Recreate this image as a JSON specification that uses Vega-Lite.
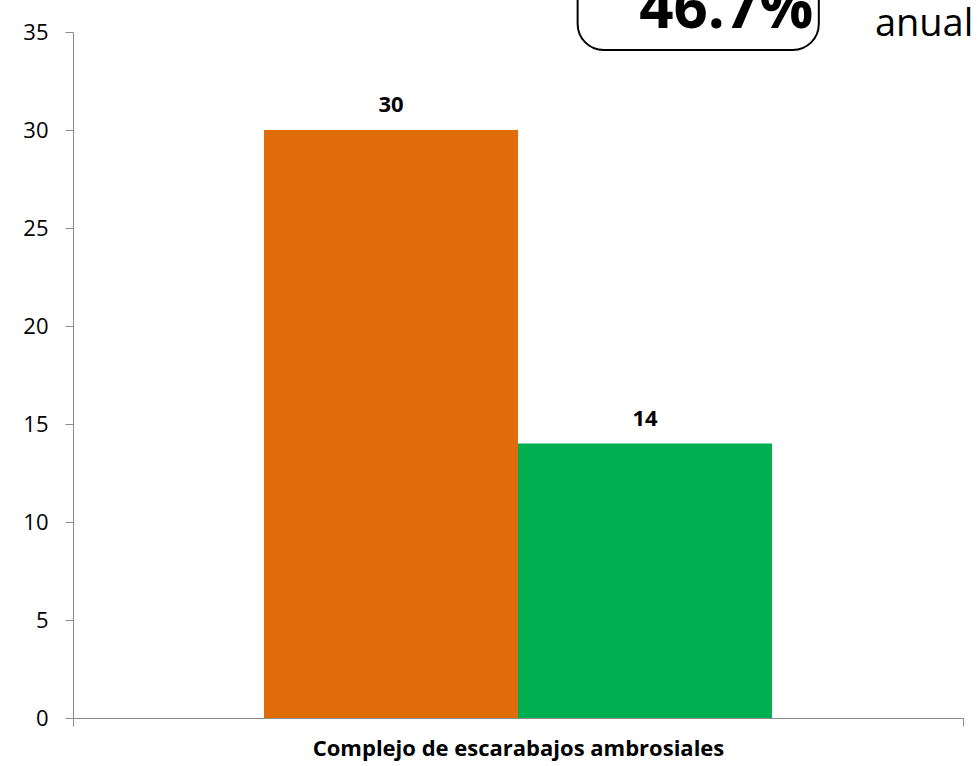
{
  "$schema": "https://vega.github.io/schema/vega-lite/v6.json",
  "autosize": {"type": "none"},
  "padding": {"left": 73, "top": 32, "right": 15, "bottom": 48},
  "width": 890,
  "height": 686,
  "background": "white",
  "config": {
    "view": {"stroke": null},
    "font": "Open Sans",
    "axis": {"domainColor": "#8c8c8c", "tickColor": "#8c8c8c", "labelColor": "#000000", "labelFont": "Open Sans", "grid": false, "title": null}
  },
  "datasets": {
    "bars": [
      {"categoria": "Complejo de escarabajos ambrosiales", "serie": "A", "valor": 30},
      {"categoria": "Complejo de escarabajos ambrosiales", "serie": "B", "valor": 14}
    ],
    "nota": [
      {"pct": "46.7%", "texto": "anual"}
    ]
  },
  "resolve": {"scale": {"x": "independent"}, "axis": {"x": "independent"}},
  "layer": [
    {
      "data": {"name": "bars"},
      "encoding": {
        "x": {"field": "categoria", "type": "nominal", "scale": {"paddingInner": 0, "paddingOuter": 0},
          "axis": {"labelAngle": 0, "labelFontWeight": "bold", "labelFontSize": 22, "labelPadding": 12, "labelLimit": 800, "tickBand": "extent", "tickSize": 8}},
        "xOffset": {"field": "serie", "type": "nominal", "scale": {"paddingInner": 0, "paddingOuter": 0.752}},
        "y": {"field": "valor", "type": "quantitative", "scale": {"domain": [0, 35], "nice": false},
          "axis": {"values": [0, 5, 10, 15, 20, 25, 30, 35], "tickSize": 8, "labelPadding": 17, "labelFontSize": 22}}
      },
      "layer": [
        {
          "mark": {"type": "bar"},
          "encoding": {
            "color": {"field": "serie", "type": "nominal", "scale": {"domain": ["A", "B"], "range": ["#E36C0A", "#00B050"]}, "legend": null}
          }
        },
        {
          "mark": {"type": "text", "fontWeight": "bold", "fontSize": 22, "baseline": "alphabetic", "dy": -18, "color": "#000000"},
          "encoding": {
            "text": {"field": "valor", "type": "quantitative"}
          }
        }
      ]
    },
    {
      "data": {"name": "nota"},
      "layer": [
        {
          "mark": {"type": "rect", "fill": "white", "stroke": "#000000", "strokeWidth": 2, "cornerRadius": 26},
          "encoding": {
            "x": {"datum": 0.567, "type": "quantitative", "scale": {"domain": [0, 1]}, "axis": null},
            "x2": {"datum": 0.838},
            "y": {"datum": 39.5, "type": "quantitative"},
            "y2": {"datum": 34.08}
          }
        },
        {
          "mark": {"type": "text", "fontWeight": "bold", "fontSize": 60, "align": "center", "baseline": "alphabetic", "color": "#000000"},
          "encoding": {
            "x": {"datum": 0.734, "type": "quantitative", "scale": {"domain": [0, 1]}, "axis": null},
            "y": {"datum": 35.2, "type": "quantitative"},
            "text": {"field": "pct"}
          }
        },
        {
          "mark": {"type": "text", "fontSize": 38, "align": "left", "baseline": "alphabetic", "color": "#000000"},
          "encoding": {
            "x": {"datum": 0.901, "type": "quantitative", "scale": {"domain": [0, 1]}, "axis": null},
            "y": {"datum": 34.8, "type": "quantitative"},
            "text": {"field": "texto"}
          }
        }
      ]
    }
  ]
}
